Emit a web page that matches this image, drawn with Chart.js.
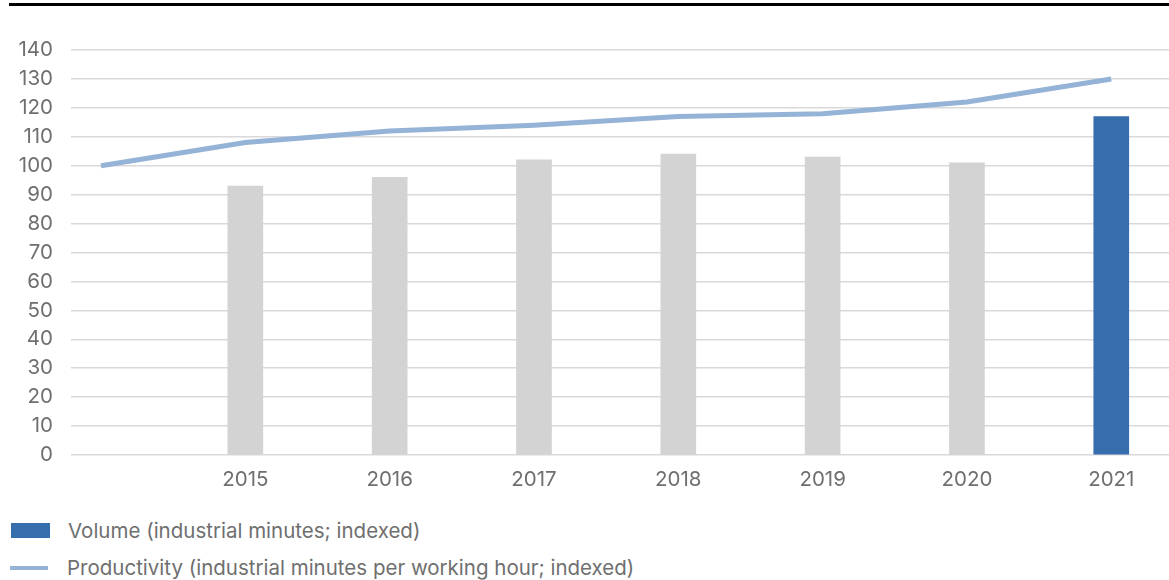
<!DOCTYPE html>
<html>
<head>
<meta charset="utf-8">
<script src="https://cdn.jsdelivr.net/npm/chart.js@4"></script>
<style>
  body { margin: 0; background: #fff; font-family: Inter, "Liberation Sans", Arial, sans-serif; }
  #topRule { position: absolute; left: 9px; top: 3px; width: 1160px; height: 3px; background: #000; }
  #wrap { position: absolute; left: 0; top: 0; width: 1169px; height: 500px; }
  #legend { position: absolute; left: 0; top: 512px; color: #6f6f6f; font-size: 20.5px; line-height: 24px; }
  .item { position: absolute; white-space: nowrap; }
  .swatch { position: absolute; }
</style>
</head>
<body>
<div id="topRule"></div>
<div id="wrap"><canvas id="myChart"></canvas></div>
<div id="legend"></div>
<script>
// categorias (o primeiro ponto é a base sem rótulo)
const categories = ['', '2015', '2016', '2017', '2018', '2019', '2020', '2021'];
const volume = [null, 93, 96, 102, 104, 103, 101, 117];
const productivity = [100, 108, 112, 114, 117, 118, 122, 130];
const yTicks = [0, 10, 20, 30, 40, 50, 60, 70, 80, 90, 100, 110, 120, 130, 140];

const volumeLabel = 'Volume (industrial minutes; indexed)';
const productivityLabel = 'Productivity (industrial minutes per working hour; indexed)';

const grey = '#d3d3d3';
const blue = '#366dac';
const lineBlue = '#95b3d6';
const textGrey = '#6f6f6f';
const fontFamily = 'Inter';

const barPoints = [];
const barColors = [];
volume.forEach((v, i) => {
  if (v === null) return;
  barPoints.push({ x: i, y: v });
  barColors.push(i === volume.length - 1 ? blue : grey);
});
const linePoints = productivity.map((v, i) => ({ x: i, y: v }));

const ctx = document.getElementById('myChart');
new Chart(ctx, {
  data: {
    datasets: [
      {
        type: 'line',
        label: productivityLabel,
        data: linePoints,
        borderColor: lineBlue,
        borderWidth: 5,
        pointRadius: 0,
        tension: 0,
        order: 0
      },
      {
        type: 'bar',
        label: volumeLabel,
        data: barPoints,
        backgroundColor: barColors,
        barThickness: 35,
        order: 1
      }
    ]
  },
  options: {
    responsive: true,
    maintainAspectRatio: false,
    animation: false,
    layout: { padding: { top: 50, left: 0, right: 0, bottom: 0 } },
    plugins: {
      legend: { display: false },
      tooltip: { enabled: false }
    },
    scales: {
      x: {
        type: 'linear',
        offset: false,
        min: -0.208,
        max: 7.4,
        afterBuildTicks: (axis) => {
          axis.ticks = categories.map((c, i) => ({ value: i })).filter((t) => categories[t.value] !== '');
        },
        afterFit: (axis) => { axis.height = 45; },
        grid: { display: false },
        border: { display: false },
        ticks: {
          callback: (v) => categories[v],
          color: textGrey,
          padding: 5,
          maxRotation: 0,
          autoSkip: false,
          font: { family: fontFamily, size: 20.5 }
        }
      },
      y: {
        min: 0,
        max: 140,
        afterBuildTicks: (axis) => {
          axis.ticks = yTicks.map((v) => ({ value: v }));
        },
        afterFit: (axis) => { axis.width = 71; },
        grid: { color: '#d9d9d9', lineWidth: 1.5, drawTicks: false },
        border: { display: false },
        ticks: {
          color: textGrey,
          padding: 18,
          font: { family: fontFamily, size: 20.5 }
        }
      }
    }
  }
});

// legenda em HTML, duas linhas como no original
const legend = document.getElementById('legend');
legend.innerHTML =
  '<div class="swatch" style="left:11px;top:11px;width:39px;height:15px;background:' + blue + '"></div>' +
  '<div class="item" style="left:68px;top:7px;">' + volumeLabel + '</div>' +
  '<div class="swatch" style="left:10px;top:54px;width:38px;height:4px;background:' + lineBlue + '"></div>' +
  '<div class="item" style="left:67px;top:44px;">' + productivityLabel + '</div>';
</script>
</body>
</html>
